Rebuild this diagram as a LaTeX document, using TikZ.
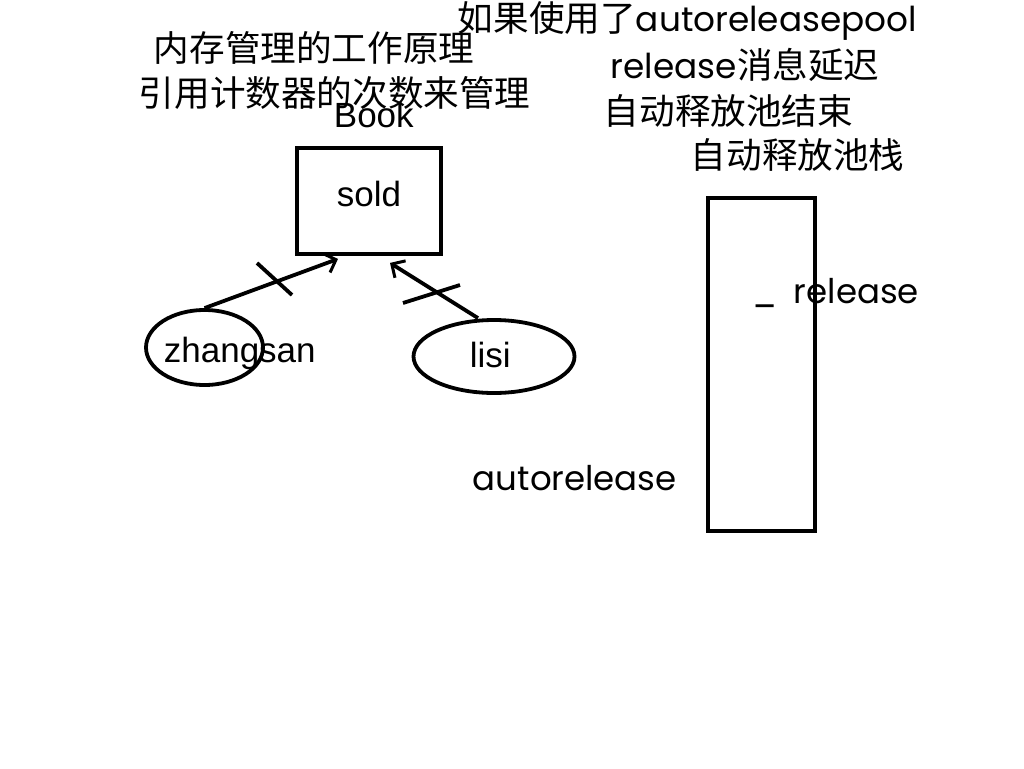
\documentclass[tikz,border=0pt]{standalone}
\usepackage{fontspec}
\setmainfont{Liberation Sans}
\newfontfamily\cjk{Noto Sans CJK SC}
\newfontfamily\geo{Poppins}
\usetikzlibrary{arrows.meta,shapes.geometric}
\newcommand{\geosmall}{\geo\fontsize{34.3}{34.3}\selectfont}
\begin{document}
\begin{tikzpicture}[x=1pt,y=-1pt,line width=3.8pt,
  txt/.style={inner sep=0pt,anchor=base west,font=\fontsize{35}{35}\selectfont},
  geotxt/.style={inner sep=0pt,anchor=base west,font=\geo\fontsize{34}{34}\selectfont},
  cjktxt/.style={inner sep=0pt,anchor=base west,font=\cjk\fontsize{35.6}{36}\selectfont},
  box/.style={draw,rectangle,inner sep=0pt},
  oval/.style={draw,ellipse,inner sep=0pt},
  arr/.style={-{Straight Barb[length=10pt,width=20pt,line width=3pt]}},
  tick/.style={line width=3.8pt}]
\useasboundingbox (0,0) rectangle (1024,768);
% headings
\node[cjktxt] (h1) at (152,62) {内存管理的工作原理};
\node[cjktxt] (h2) at (137,106) {引用计数器的次数来管理};
\node[cjktxt] (h3) at (456,32) {如果使用了{\geosmall autoreleasepool}};
\node[cjktxt] (h4) at (609,78) {{\geosmall release}消息延迟};
\node[cjktxt] (h5) at (602,124) {自动释放池结束};
\node[cjktxt] (h6) at (689,168) {自动释放池栈};
% Book object
\node[txt] (book) at (332,127) {Book};
\node[box,minimum width=144pt,minimum height=106pt,text height=10pt,text depth=0pt,
  font=\fontsize{35}{35}\selectfont] (sold) at (369,201) {sold};
% owners
\node[oval,minimum width=117pt,minimum height=75pt] (zs) at (204.5,347.5) {};
\node[txt] (zstxt) at (162,362) {zhangsan};
\node[oval,minimum width=161pt,minimum height=73pt] (ls) at (494,356.5) {};
\node[txt] (lstxt) at (468,367) {lisi};
% references
\draw[arr] (zs.north) -- ([xshift=-31pt,yshift=-3pt]sold.south);
\draw[arr] ([xshift=-16pt]ls.north) -- ([xshift=21pt,yshift=-7pt]sold.south);
\coordinate (t1a) at (257,263);
\coordinate (t1b) at (292,295);
\coordinate (t2a) at (403,303);
\coordinate (t2b) at (460,285);
\draw[tick] (t1a) -- (t1b);
\draw[tick] (t2a) -- (t2b);
% autorelease pool stack
\node[box,minimum width=107pt,minimum height=333pt] (pool) at (761.5,364.5) {};
\node[geotxt] (us) at (751,303) {\_};
\node[geotxt] (rel) at (792,303) {release};
\node[geotxt] (arel) at (471,490) {autorelease};
\end{tikzpicture}
\end{document}
